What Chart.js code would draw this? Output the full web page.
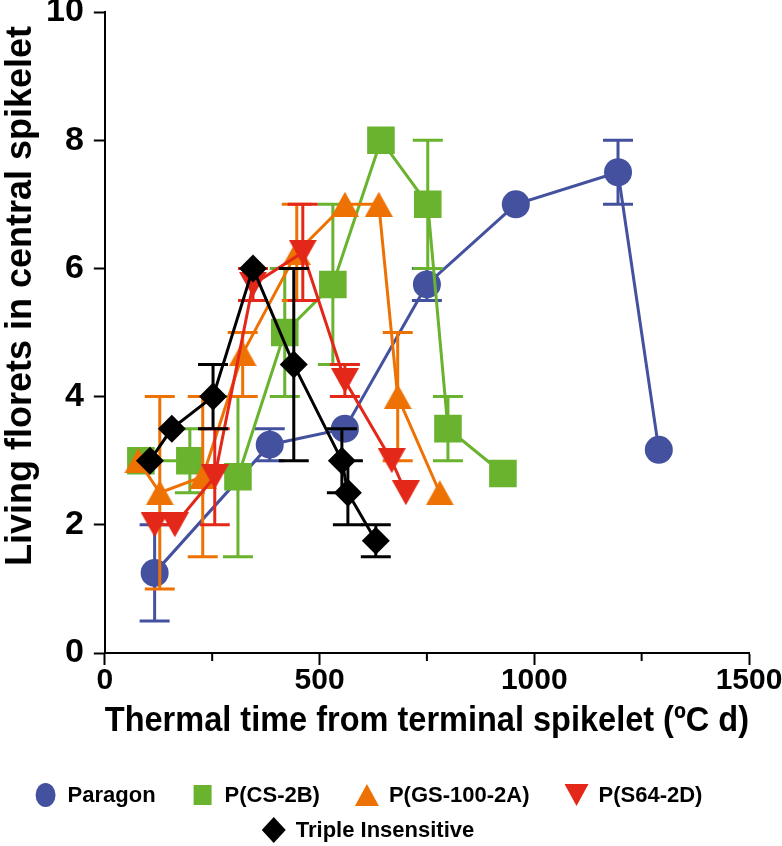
<!DOCTYPE html>
<html>
<head>
<meta charset="utf-8">
<script src="https://cdn.jsdelivr.net/npm/chart.js@4.4.1/dist/chart.umd.min.js"></script>
<style>
  html, body { margin: 0; padding: 0; background: #fff; }
  #wrap { width: 782px; height: 846px; }
</style>
</head>
<body>
<div id="wrap"><canvas id="chart"></canvas></div>
<script>
// values (x = thermal time, y = living florets, lo/hi = error bar ends)
const paragonX  = [116, 384, 559, 750, 957, 1195, 1290];
const paragonY  = [1.25, 3.25, 3.5, 5.75, 7.0, 7.5, 3.17];
const paragonLo = [0.5, 3.0, null, 5.5, null, 7.0, null];
const paragonHi = [2.0, 3.5, null, 6.0, null, 8.0, null];

const cs2bX  = [84, 198, 310, 419, 531, 643, 752, 799, 927];
const cs2bY  = [3.0, 3.0, 2.75, 5.0, 5.75, 8.0, 7.0, 3.5, 2.8];
const cs2bLo = [null, 2.5, 1.5, 4.0, 4.5, null, 6.0, 3.0, null];
const cs2bHi = [null, 3.5, 4.0, 6.0, 7.0, null, 8.0, 4.0, null];

const gs100X  = [78, 128, 228, 321, 447, 559, 638, 682, 780];
const gs100Y  = [3.0, 2.5, 2.75, 4.67, 6.25, 7.0, 7.0, 4.0, 2.5];
const gs100Lo = [null, 1.0, 1.5, 4.0, 5.5, null, null, 3.0, null];
const gs100Hi = [null, 4.0, 4.0, 5.0, 7.0, null, null, 5.0, null];

const s64X  = [116, 163, 256, 345, 461, 559, 668, 701];
const s64Y  = [2.0, 2.0, 2.75, 5.75, 6.25, 4.25, 3.0, 2.5];
const s64Lo = [null, null, 2.0, 5.5, 5.5, 4.0, null, null];
const s64Hi = [null, null, 3.5, 6.0, 7.0, 4.5, null, null];

const tripleX  = [105, 156, 252, 345, 440, 552, 566, 631];
const tripleY  = [3.0, 3.5, 4.0, 6.0, 4.5, 3.0, 2.5, 1.75];
const tripleLo = [null, null, 3.5, null, 3.0, 2.5, 2.0, 1.5];
const tripleHi = [null, null, 4.5, null, 6.0, 3.5, 3.0, 2.0];

const xTicks = [0, 500, 1000, 1500];
const yTicks = [0, 2, 4, 6, 8, 10];

const BLUE = '#43519f', GREEN = '#69b32f', ORANGE = '#ee7203', RED = '#e3281a', BLACK = '#000000';
const FONT = "'Liberation Sans', Arial, sans-serif";
const NARROW = "'Liberation Sans Narrow', 'Liberation Sans', Arial, sans-serif";

function pts(xs, ys) { return xs.map((x, i) => ({x: x, y: ys[i]})); }

// triangle marker as a canvas so that it is centred on its box like the original
function triangle(color, w, h, down) {
  const c = document.createElement('canvas');
  c.width = w; c.height = h;
  const g = c.getContext('2d');
  g.fillStyle = color;
  g.beginPath();
  if (down) { g.moveTo(0, 0); g.lineTo(w, 0); g.lineTo(w / 2, h); }
  else { g.moveTo(w / 2, 0); g.lineTo(w, h); g.lineTo(0, h); }
  g.closePath();
  g.fill();
  return c;
}

function series(label, xs, ys, lo, hi, color, style, radius) {
  return {
    label: label, data: pts(xs, ys), errLo: lo, errHi: hi,
    showLine: true, borderColor: color, borderWidth: 3, tension: 0,
    pointStyle: style, pointRadius: radius, pointHoverRadius: radius,
    pointBackgroundColor: color, pointBorderColor: color, pointBorderWidth: 0
  };
}

// later in this list = drawn underneath
const datasets = [
  series('Triple Insensitive', tripleX, tripleY, tripleLo, tripleHi, BLACK, 'rectRot', 14),
  series('P(S64-2D)', s64X, s64Y, s64Lo, s64Hi, RED, triangle(RED, 28, 25, true), 14),
  series('P(GS-100-2A)', gs100X, gs100Y, gs100Lo, gs100Hi, ORANGE, triangle(ORANGE, 28, 25, false), 14),
  series('P(CS-2B)', cs2bX, cs2bY, cs2bLo, cs2bHi, GREEN, 'rect', 19.5),
  series('Paragon', paragonX, paragonY, paragonLo, paragonHi, BLUE, 'circle', 14)
];

const errorBars = {
  id: 'errorBars',
  beforeDatasetDraw(chart, args) {
    const ds = chart.data.datasets[args.index];
    const xs = chart.scales.x, ys = chart.scales.y, ctx = chart.ctx;
    ctx.save();
    ctx.strokeStyle = ds.borderColor;
    ctx.lineWidth = 3;
    ds.data.forEach((p, i) => {
      if (ds.errLo[i] == null) return;
      const px = xs.getPixelForValue(p.x);
      const y1 = ys.getPixelForValue(ds.errLo[i]);
      const y2 = ys.getPixelForValue(ds.errHi[i]);
      ctx.beginPath();
      ctx.moveTo(px, y1); ctx.lineTo(px, y2);
      ctx.moveTo(px - 15, y1); ctx.lineTo(px + 15, y1);
      ctx.moveTo(px - 15, y2); ctx.lineTo(px + 15, y2);
      ctx.stroke();
    });
    ctx.restore();
  }
};

const minorTicks = {
  id: 'minorTicks',
  afterDraw(chart) {
    const xs = chart.scales.x, ctx = chart.ctx, b = chart.chartArea.bottom;
    ctx.save();
    ctx.strokeStyle = '#000';
    ctx.lineWidth = 2;
    for (let v = 250; v < xs.max; v += 500) {
      const px = xs.getPixelForValue(v);
      ctx.beginPath(); ctx.moveTo(px, b); ctx.lineTo(px, b + 8); ctx.stroke();
    }
    ctx.restore();
  }
};

// y axis title sits a little above the plot centre in the figure
const yTitle = {
  id: 'yTitle',
  afterDraw(chart) {
    const ctx = chart.ctx;
    ctx.save();
    ctx.translate(21, 296);
    ctx.rotate(-Math.PI / 2);
    ctx.font = 'bold 36px ' + NARROW;
    ctx.fillStyle = '#000';
    ctx.textAlign = 'center';
    ctx.textBaseline = 'middle';
    ctx.fillText('Living florets in central spikelet', 0, 0);
    ctx.restore();
  }
};

// legend drawn in two centred rows like the figure
const legendRows = [['Paragon', 'P(CS-2B)', 'P(GS-100-2A)', 'P(S64-2D)'], ['Triple Insensitive']];
const legendMarks = {
  'Paragon': {shape: 'circle', color: BLUE},
  'P(CS-2B)': {shape: 'square', color: GREEN},
  'P(GS-100-2A)': {shape: 'up', color: ORANGE},
  'P(S64-2D)': {shape: 'down', color: RED},
  'Triple Insensitive': {shape: 'diamond', color: BLACK}
};
const figLegend = {
  id: 'figLegend',
  afterDraw(chart) {
    const ctx = chart.ctx;
    const rowY = [795, 830], centre = 368, toText = 22, toNext = 47;
    ctx.save();
    ctx.font = 'bold 22px ' + NARROW;
    ctx.textBaseline = 'middle';
    legendRows.forEach((row, r) => {
      const widths = row.map(t => ctx.measureText(t).width);
      let total = 0;
      widths.forEach((w, i) => { total += toText + w + (i < row.length - 1 ? toNext : 0); });
      let x = centre - (total + 12) / 2 + 12;
      const y = rowY[r];
      row.forEach((t, i) => {
        const m = legendMarks[t];
        ctx.fillStyle = m.color;
        ctx.beginPath();
        if (m.shape === 'circle') ctx.ellipse(x, y, 10, 12, 0, 0, Math.PI * 2);
        else if (m.shape === 'square') ctx.rect(x - 9, y - 10, 18, 20);
        else if (m.shape === 'up') { ctx.moveTo(x, y - 11); ctx.lineTo(x + 12, y + 11); ctx.lineTo(x - 12, y + 11); }
        else if (m.shape === 'down') { ctx.moveTo(x - 12, y - 11); ctx.lineTo(x + 12, y - 11); ctx.lineTo(x, y + 11); }
        else { ctx.moveTo(x, y - 13); ctx.lineTo(x + 12, y); ctx.lineTo(x, y + 13); ctx.lineTo(x - 12, y); }
        ctx.closePath();
        ctx.fill();
        ctx.fillStyle = '#000';
        ctx.textAlign = 'left';
        ctx.fillText(t, x + toText, y + 1);
        x += toText + widths[i] + toNext;
      });
    });
    ctx.restore();
  }
};

new Chart(document.getElementById('chart'), {
  type: 'scatter',
  data: {datasets: datasets},
  options: {
    responsive: true,
    maintainAspectRatio: false,
    animation: false,
    layout: {autoPadding: false, padding: {top: 0, right: 0, bottom: 105, left: 36}},
    plugins: {legend: {display: false}, tooltip: {enabled: false}},
    scales: {
      x: {
        type: 'linear', min: 0, max: 1500,
        afterBuildTicks: s => { s.ticks = xTicks.map(v => ({value: v})); },
        afterFit: s => { s.paddingRight = 33; },
        ticks: {color: '#000', font: {family: FONT, size: 30, weight: 'bold', lineHeight: 1.05}, padding: 0,
                maxRotation: 0, autoSkip: false, callback: v => String(v)},
        grid: {display: true, drawOnChartArea: false, tickLength: 12, tickWidth: 2, tickColor: '#000'},
        border: {color: '#000', width: 2},
        title: {display: true, text: 'Thermal time from terminal spikelet (ºC d)', color: '#000',
                font: {family: NARROW, size: 35, weight: 'bold', lineHeight: 1.1}, padding: {top: 6, bottom: 0}}
      },
      y: {
        min: 0, max: 10,
        afterBuildTicks: s => { s.ticks = yTicks.map(v => ({value: v})); },
        afterFit: s => { s.paddingTop = 12; },
        ticks: {color: '#000', font: {family: FONT, size: 34, weight: 'bold', lineHeight: 0.75}, padding: 10,
                callback: v => String(v)},
        grid: {display: true, drawOnChartArea: false, tickLength: 11, tickWidth: 2, tickColor: '#000'},
        border: {color: '#000', width: 2}
      }
    }
  },
  plugins: [errorBars, minorTicks, yTitle, figLegend]
});
</script>
</body>
</html>
